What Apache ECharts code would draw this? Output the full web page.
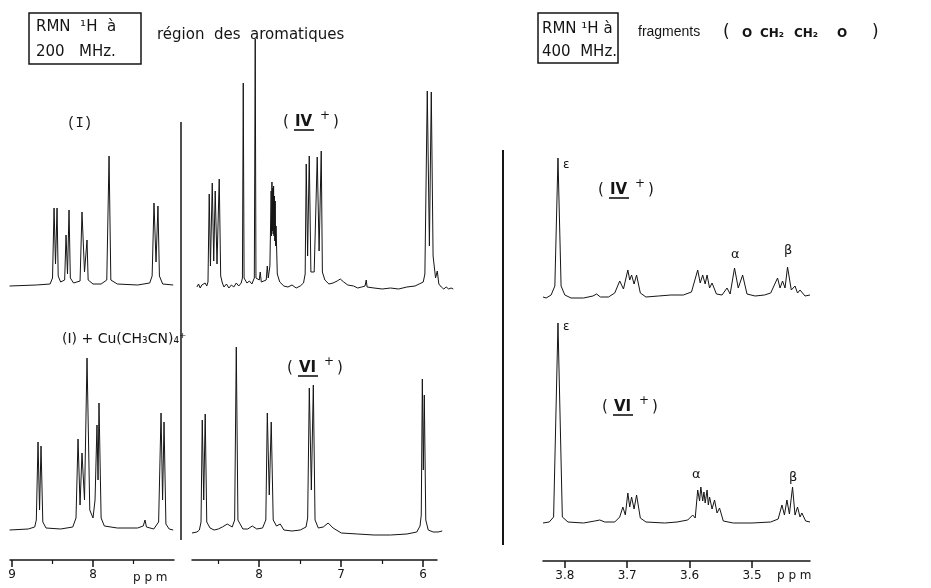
<!DOCTYPE html>
<html>
<head>
<meta charset="utf-8">
<script src="https://cdn.jsdelivr.net/npm/echarts@6/dist/echarts.min.js"></script>
<style>
  html, body { margin: 0; background: #fff; }
  #chart { width: 931px; height: 588px; }
</style>
</head>
<body>
<div id="chart"></div>
<script>
// spectra, each point is [ppm, height above baseline]
const specI = [[9.03,0],[8.70,1],[8.53,2],[8.50,8],[8.481,78],[8.463,22],[8.444,78],[8.43,10],[8.40,4],[8.35,6],[8.333,51],[8.315,12],[8.296,76],[8.28,8],[8.24,3],[8.16,5],[8.136,74],[8.105,14],[8.074,46],[8.06,6],[8.00,2],[7.90,2],[7.83,6],[7.802,130],[7.78,6],[7.70,2],[7.45,1],[7.30,3],[7.27,10],[7.247,83],[7.222,24],[7.198,80],[7.18,10],[7.14,2],[7.01,1]];

const specICu = [[9.03,0],[8.80,1],[8.72,3],[8.70,10],[8.679,88],[8.66,20],[8.642,84],[8.62,8],[8.58,2],[8.40,1],[8.25,3],[8.21,12],[8.185,91],[8.16,25],[8.136,77],[8.105,30],[8.074,172],[8.04,20],[8.00,12],[7.975,30],[7.951,105],[7.938,50],[7.926,127],[7.90,12],[7.86,4],[7.70,2],[7.45,2],[7.38,4],[7.358,10],[7.34,3],[7.25,1],[7.19,8],[7.160,117],[7.141,30],[7.123,108],[7.10,6],[7.06,1],[7.01,0]];

const specIVaro = [[8.76,-1],[8.74,2],[8.72,-2],[8.70,1],[8.68,-1],[8.66,3],[8.64,0],[8.625,4],[8.610,92],[8.595,20],[8.573,103],[8.555,25],[8.537,95],[8.515,22],[8.488,107],[8.47,10],[8.45,3],[8.43,-1],[8.40,2],[8.37,-2],[8.34,1],[8.31,-1],[8.28,3],[8.25,0],[8.22,3],[8.205,8],[8.195,203],[8.185,8],[8.15,3],[8.12,5],[8.09,2],[8.06,8],[8.049,247],[8.04,8],[8.00,6],[7.988,14],[7.975,4],[7.915,6],[7.902,20],[7.89,8],[7.87,20],[7.855,95],[7.850,50],[7.845,104],[7.840,55],[7.835,98],[7.830,52],[7.825,100],[7.820,50],[7.815,90],[7.810,45],[7.805,85],[7.800,40],[7.795,60],[7.78,12],[7.75,4],[7.70,0],[7.65,-1],[7.60,1],[7.55,-2],[7.50,0],[7.46,3],[7.44,12],[7.427,122],[7.41,30],[7.390,130],[7.37,14],[7.33,14],[7.293,129],[7.27,35],[7.244,135],[7.23,14],[7.20,6],[7.15,2],[7.10,3],[7.05,5],[7.012,7],[6.97,4],[6.92,1],[6.85,0],[6.80,-2],[6.75,-1],[6.71,0],[6.695,6],[6.685,-1],[6.60,-2],[6.50,-3],[6.40,-2],[6.30,-3],[6.20,-1],[6.10,0],[6.05,2],[6.00,4],[5.98,12],[5.951,195],[5.925,40],[5.902,194],[5.88,30],[5.85,8],[5.829,15],[5.81,2],[5.78,-1],[5.75,-3],[5.72,-1],[5.69,-3],[5.66,-2],[5.634,-3]];

const specVIaro = [[8.82,-3],[8.76,-2],[8.73,0],[8.71,8],[8.695,110],[8.677,30],[8.659,116],[8.64,8],[8.60,2],[8.55,0],[8.50,1],[8.45,3],[8.39,6],[8.33,3],[8.30,10],[8.280,183],[8.26,10],[8.20,1],[8.14,1],[8.085,4],[8.03,1],[7.96,2],[7.92,10],[7.902,117],[7.878,35],[7.854,108],[7.83,10],[7.79,4],[7.744,6],[7.70,0],[7.60,-1],[7.50,0],[7.43,3],[7.41,12],[7.390,142],[7.365,40],[7.341,145],[7.32,10],[7.28,2],[7.22,3],[7.16,7],[7.10,2],[7.00,-3],[6.80,-4],[6.60,-5],[6.40,-5],[6.20,-4],[6.08,-2],[6.04,4],[6.025,15],[6.012,151],[6.000,60],[5.988,135],[5.97,10],[5.94,0],[5.88,-2],[5.82,-2],[5.77,-1]];

const specIValk = [[3.835,1],[3.83,0],[3.822,3],[3.816,12],[3.811,140],[3.806,12],[3.80,3],[3.79,0],[3.77,0],[3.755,2],[3.749,4],[3.743,1],[3.73,1],[3.72,5],[3.712,17],[3.706,9],[3.699,28],[3.696,18],[3.693,23],[3.689,14],[3.685,23],[3.679,5],[3.67,1],[3.65,2],[3.63,3],[3.61,3],[3.597,6],[3.587,28],[3.583,15],[3.579,23],[3.575,14],[3.572,23],[3.568,10],[3.564,15],[3.557,4],[3.548,3],[3.540,10],[3.535,4],[3.528,30],[3.522,10],[3.515,23],[3.508,4],[3.495,2],[3.48,3],[3.47,5],[3.459,20],[3.455,10],[3.451,17],[3.447,10],[3.443,31],[3.437,8],[3.431,12],[3.427,5],[3.423,8],[3.415,2],[3.407,3]];

const specVIalk = [[3.835,0],[3.825,1],[3.818,6],[3.811,200],[3.804,6],[3.795,1],[3.77,0],[3.752,2],[3.744,3],[3.736,1],[3.72,1],[3.712,6],[3.707,16],[3.703,8],[3.699,30],[3.696,16],[3.693,26],[3.689,14],[3.685,28],[3.679,5],[3.67,1],[3.64,0],[3.62,1],[3.603,3],[3.595,8],[3.591,5],[3.587,33],[3.584,22],[3.582,36],[3.579,22],[3.577,31],[3.575,20],[3.572,33],[3.570,18],[3.568,26],[3.564,14],[3.560,23],[3.556,10],[3.552,15],[3.546,2],[3.53,0],[3.50,0],[3.47,1],[3.458,4],[3.452,18],[3.448,8],[3.444,23],[3.440,9],[3.435,36],[3.431,8],[3.427,16],[3.423,6],[3.420,10],[3.414,2],[3.407,1]];

// tick labels of the three ppm scales
const ticksLeft = [9, 8];
const minorLeft = [8.5, 7.5];
const ticksMid = [8, 7, 6];
const minorMid = [8.5, 7.5, 6.5];
const ticksRight = [3.8, 3.7, 3.6, 3.5];

const INK = '#151515';
const FONT = '"DejaVu Sans", sans-serif';
const NARROW = '"Liberation Sans", sans-serif';

const chart = echarts.init(document.getElementById('chart'));

// grid boxes: spectra use 1 unit = 1 px above the baseline
const grids = [
  { left: 10,  width: 164, top: 20,  height: 276 }, // (I)
  { left: 10,  width: 164, top: 300, height: 240 }, // (I)+Cu
  { left: 10,  width: 164, top: 520, height: 40 },  // axis 9-7
  { left: 192, width: 262, top: 20,  height: 276 }, // IV+ aromatics
  { left: 192, width: 251, top: 300, height: 240 }, // VI+ aromatics
  { left: 192, width: 245, top: 520, height: 40 },  // axis 8.8-5.8
  { left: 543, width: 267, top: 140, height: 168 }, // IV+ OCH2CH2O
  { left: 543, width: 267, top: 300, height: 233 }, // VI+ OCH2CH2O
  { left: 543, width: 267, top: 521, height: 40 }   // axis 3.8-3.5
];

function hiddenX(grid, min, max) {
  return { type: 'value', gridIndex: grid, min: min, max: max, inverse: true, show: false };
}

function scaleX(grid, min, max, majors, minors, labelOf) {
  return [{
    type: 'value', gridIndex: grid, min: min, max: max, inverse: true, position: 'bottom',
    axisLine: { lineStyle: { color: INK, width: 1.5 } },
    axisTick: { customValues: majors, length: 7, lineStyle: { color: INK, width: 1.5 } },
    axisLabel: { customValues: majors, formatter: labelOf, color: INK, fontSize: 12, fontFamily: FONT, margin: 9 },
    splitLine: { show: false }
  }, {
    type: 'value', gridIndex: grid, min: min, max: max, inverse: true, position: 'bottom',
    axisLine: { show: false },
    axisTick: { customValues: minors, length: 4, lineStyle: { color: INK, width: 1.2 } },
    axisLabel: { show: false },
    splitLine: { show: false }
  }];
}

const xAxes = [
  hiddenX(0, 7.0, 9.025),
  hiddenX(1, 7.0, 9.025),
  ...scaleX(2, 7.0, 9.025, ticksLeft, minorLeft, v => String(v)),
  hiddenX(3, 5.625, 8.82),
  hiddenX(4, 5.76, 8.82),
  ...scaleX(5, 5.83, 8.82, ticksMid, minorMid, v => String(v)),
  hiddenX(6, 3.407, 3.835),
  hiddenX(7, 3.407, 3.835),
  ...scaleX(8, 3.407, 3.835, ticksRight, [], v => v.toFixed(1))
];

const yRange = [[-10, 266], [-10, 230], [0, 1], [-10, 266], [-10, 230], [0, 1], [-10, 158], [-10, 223], [0, 1]];
const yAxes = yRange.map((r, i) => ({ type: 'value', gridIndex: i, min: r[0], max: r[1], show: false }));

function spectrum(xi, yi, data) {
  return {
    type: 'line', xAxisIndex: xi, yAxisIndex: yi, data: data,
    showSymbol: false, symbol: 'none', clip: false, silent: true,
    lineStyle: { color: INK, width: 1 }
  };
}

const series = [
  spectrum(0, 0, specI),
  spectrum(1, 1, specICu),
  spectrum(4, 3, specIVaro),
  spectrum(5, 4, specVIaro),
  spectrum(8, 6, specIValk),
  spectrum(9, 7, specVIalk)
];

function txt(x, y, s, font, extra) {
  return { type: 'text', x: x, y: y, silent: true,
    style: Object.assign({ text: s, fill: INK, font: font, verticalAlign: 'middle' }, extra || {}) };
}

// "( IV + )" style compound label with the underlined numeral
function compound(x, y, numeral) {
  return { type: 'group', x: x, y: y, silent: true, children: [
    txt(0, 0, '(', '15px ' + FONT),
    txt(12, 0, numeral, 'bold 15px ' + FONT),
    { type: 'line', shape: { x1: 11, y1: 8, x2: 31, y2: 8 }, style: { stroke: INK, lineWidth: 1.6 } },
    txt(37, -6, '+', '12px ' + FONT),
    txt(50, 0, ')', '15px ' + FONT)
  ]};
}

const graphics = [
  // header boxes
  { type: 'rect', shape: { x: 29, y: 13, width: 112, height: 51 }, style: { fill: 'none', stroke: INK, lineWidth: 1.5 } },
  txt(36, 27, 'RMN  \u00b9H  à', '15px ' + FONT),
  txt(36, 52, '200   MHz.', '15px ' + FONT),
  txt(157, 35, 'région  des  aromatiques', '15px ' + FONT),
  { type: 'rect', shape: { x: 538, y: 13, width: 80, height: 50 }, style: { fill: 'none', stroke: INK, lineWidth: 1.5 } },
  txt(542, 29, 'RMN \u00b9H à', '15px ' + FONT),
  txt(542, 52, '400  MHz.', '15px ' + FONT),
  txt(638, 32, 'fragments', '14px ' + NARROW),
  txt(723, 33, '(', '17px ' + FONT),
  txt(742, 34, 'O', 'bold 12px ' + FONT),
  txt(760, 34, 'CH\u2082', 'bold 12px ' + FONT),
  txt(794, 34, 'CH\u2082', 'bold 12px ' + FONT),
  txt(837, 34, 'O', 'bold 12px ' + FONT),
  txt(872, 33, ')', '17px ' + FONT),
  // panel separators
  { type: 'line', shape: { x1: 181, y1: 122, x2: 181, y2: 540 }, style: { stroke: INK, lineWidth: 1.5 } },
  { type: 'line', shape: { x1: 503, y1: 150, x2: 503, y2: 545 }, style: { stroke: INK, lineWidth: 2 } },
  // spectrum labels
  txt(67, 123, '(I)', '14px "Liberation Mono", monospace'),
  txt(62, 339, '(I) + Cu(CH\u2083CN)\u2084\u207a', '14px ' + FONT),
  compound(283, 122, 'IV'),
  compound(287, 368, 'VI'),
  compound(598, 190, 'IV'),
  compound(602, 407, 'VI'),
  txt(563, 165, 'ε', '12px ' + FONT),
  txt(563, 327, 'ε', '12px ' + FONT),
  txt(731, 255, 'α', '13px ' + FONT),
  txt(784, 251, 'β', '13px ' + FONT),
  txt(692, 475, 'α', '13px ' + FONT),
  txt(789, 478, 'β', '13px ' + FONT),
  // unit labels on the ppm scales
  txt(133, 578, 'p p m', '12px ' + FONT),
  txt(777, 576, 'p p m', '12px ' + FONT)
];

chart.setOption({
  animation: false,
  backgroundColor: '#fff',
  grid: grids,
  xAxis: xAxes,
  yAxis: yAxes,
  series: series,
  graphic: graphics
});
</script>
</body>
</html>
